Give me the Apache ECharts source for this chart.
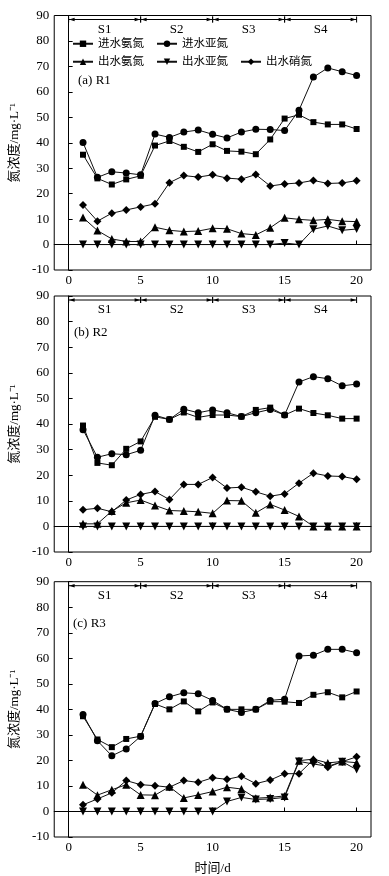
<!DOCTYPE html>
<html><head><meta charset="utf-8">
<script src="https://cdn.jsdelivr.net/npm/echarts@6/dist/echarts.min.js"></script>
<style>html,body{margin:0;padding:0;background:#fff}#c{width:389px;height:876px}</style>
</head><body><div id="c"></div>
<script>
const days = [1,2,3,4,5,6,7,8,9,10,11,12,13,14,15,16,17,18,19,20];
const seriesNames = ['进水氨氮','进水亚氮','出水氨氮','出水亚氮','出水硝氮'];
const symbols = ['rect','circle','triangle','path://M0,0L10,0L5,9Z','diamond'];
const symbolSizes = [6,7,8,8,8];
const xTicks = [0,5,10,15,20];
const stageStart = [0,5,10,15];
const stageEnd = [5,10,15,20];
const stageLabels = ['S1','S2','S3','S4'];
const panelLabels = ['(a) R1','(b) R2','(c) R3'];

// R1
const r1_inNH = [35.3,26.0,23.6,25.6,27.0,38.9,40.7,38.4,36.4,39.4,36.8,36.5,35.5,41.3,49.5,51.0,48.1,47.2,47.2,45.4];
const r1_inNO2 = [40.1,26.4,28.6,28.1,27.4,43.4,42.1,44.2,45.0,43.3,41.9,44.2,45.3,45.2,44.8,52.8,65.8,69.4,67.9,66.4];
const r1_outNH = [10.6,5.5,2.2,1.2,1.2,6.8,5.6,5.1,5.3,6.4,6.2,4.3,3.8,6.6,10.5,9.9,9.5,9.9,9.2,9.0];
const r1_outNO2 = [0,0,0,0,0,0,0,0,0,0,0,0,0,0,0.6,0,6.0,7.3,5.6,6.1];
const r1_outNO3 = [15.5,9.2,12.3,13.6,14.8,16.0,24.3,27.1,26.5,27.4,26.1,25.7,27.5,23.0,23.8,24.2,25.2,24.0,24.2,25.1];
// R2
const r2_inNH = [39.4,24.8,23.9,30.3,33.2,42.8,41.8,44.5,42.6,43.5,43.5,42.9,45.5,46.4,43.5,46.0,44.3,43.4,42.1,42.1];
const r2_inNO2 = [37.8,27.0,28.4,28.0,29.7,43.4,41.8,45.8,44.4,45.5,44.4,42.9,44.4,45.7,43.5,56.4,58.5,57.7,54.9,55.6];
const r2_outNH = [1.0,1.0,6.0,9.2,10.3,8.2,6.2,6.0,5.7,5.1,10.1,10.0,5.3,8.6,6.4,3.9,0,0,0,0];
const r2_outNO2 = [0,0,0,0,0,0,0,0,0,0,0,0,0,0,0,0,0,0,0,0];
const r2_outNO3 = [6.5,7.1,5.7,10.3,12.5,13.6,10.5,16.4,16.4,19.1,15.0,15.3,13.5,11.8,12.7,16.9,20.8,19.7,19.5,18.4];
// R3
const r3_inNH = [37.3,28.2,25.2,28.4,29.5,42.1,40.0,43.1,39.2,42.7,40.0,40.0,40.0,43.0,43.0,42.5,45.7,46.7,44.7,47.0];
const r3_inNO2 = [38.0,27.7,21.8,24.5,29.4,42.3,44.9,46.5,46.1,43.5,40.0,38.8,40.0,43.5,44.0,60.9,61.2,63.5,63.5,62.2];
const r3_outNH = [10.5,6.4,8.5,10.5,6.5,6.4,9.7,5.3,6.5,7.8,9.5,8.8,5.2,5.5,6.1,19.9,20.5,19.0,19.6,19.1];
const r3_outNO2 = [0,0,0,0,0,0,0,0,0,0,3.9,5.5,4.7,4.9,5.5,19.6,18.6,17.7,19.5,16.4];
const r3_outNO3 = [2.6,4.9,7.3,12.1,10.5,10.1,9.5,12.1,11.4,13.2,12.6,13.8,10.9,12.3,14.8,14.8,20.3,17.3,19.5,21.4];

const panels = [
  [r1_inNH, r1_inNO2, r1_outNH, r1_outNO2, r1_outNO3],
  [r2_inNH, r2_inNO2, r2_outNH, r2_outNO2, r2_outNO3],
  [r3_inNH, r3_inNO2, r3_outNH, r3_outNO2, r3_outNO3]
];

const serif = "'Liberation Serif','Times New Roman','Noto Sans CJK SC',serif";
const cjk = "'Liberation Serif','Noto Sans CJK SC',serif";
const gridTops = [15.5, 296, 581.7];
const gridHeights = [254.5, 256, 256.5];

const grids = [], xAxes = [], yAxes = [], series = [];
panels.forEach((p, i) => {
  grids.push({left: 52, right: 18, top: gridTops[i], height: gridHeights[i], show: true, borderColor: '#000', borderWidth: 1, backgroundColor: 'transparent'});
  xAxes.push({
    type: 'value', gridIndex: i, min: -1, max: 21,
    axisLine: {lineStyle: {color: '#000', width: 1}},
    axisTick: {inside: true, length: 4, customValues: xTicks, lineStyle: {color: '#000'}},
    axisLabel: {customValues: xTicks, color: '#000', fontFamily: serif, fontSize: 13, margin: 4},
    splitLine: {show: false},
    name: i === 2 ? '时间/d' : '', nameLocation: 'middle', nameGap: 25,
    nameTextStyle: {color: '#000', fontFamily: cjk, fontSize: 13}
  });
  yAxes.push({
    type: 'value', gridIndex: i, min: -10, max: 90, interval: 10,
    axisLine: {show: true, lineStyle: {color: '#000', width: 1}},
    axisTick: {inside: true, length: 4, lineStyle: {color: '#000'}},
    axisLabel: {color: '#000', fontFamily: serif, fontSize: 13, margin: 5},
    splitLine: {show: false},
    name: '氮浓度/mg·L⁻¹', nameLocation: 'middle', nameGap: 33, nameRotate: 90,
    nameTextStyle: {color: '#000', fontFamily: cjk, fontSize: 13}
  });
  p.forEach((vals, k) => {
    series.push({
      type: 'line', name: seriesNames[k], xAxisIndex: i, yAxisIndex: i,
      data: days.map((d, j) => [d, vals[j]]),
      symbol: symbols[k], symbolSize: symbolSizes[k],
      itemStyle: {color: '#000'}, lineStyle: {color: '#111', width: 1},
      showSymbol: true, animation: false, z: 3 + k
    });
  });
  series.push({
    type: 'custom', xAxisIndex: i, yAxisIndex: i, animation: false, silent: true,
    data: stageStart.map((s, j) => [s, stageEnd[j]]),
    encode: {x: [0, 1]},
    renderItem: function (params, api) {
      const a = api.coord([api.value(0), 90]);
      const b = api.coord([api.value(1), 90]);
      const y = a[1] + 4;
      const x0 = a[0], x1 = b[0];
      const st = {stroke: '#000', lineWidth: 1};
      return {
        type: 'group', children: [
          {type: 'line', shape: {x1: x0, y1: y, x2: x1, y2: y}, style: st},
          {type: 'line', shape: {x1: x0, y1: y - 3, x2: x0, y2: y + 3}, style: st},
          {type: 'line', shape: {x1: x1, y1: y - 3, x2: x1, y2: y + 3}, style: st},
          {type: 'polygon', shape: {points: [[x0 + 0.5, y], [x0 + 6, y - 1.8], [x0 + 6, y + 1.8]]}, style: {fill: '#000'}},
          {type: 'polygon', shape: {points: [[x1 - 0.5, y], [x1 - 6, y - 1.8], [x1 - 6, y + 1.8]]}, style: {fill: '#000'}},
          {type: 'text', style: {text: stageLabels[params.dataIndex], x: (x0 + x1) / 2, y: y + 10, align: 'center', verticalAlign: 'middle', fill: '#000', font: "13px 'Liberation Serif', serif"}}
        ]
      };
    }
  });
});

const labelY = [81, 333, 624];
const labelX = [78, 74, 73];
const graphic = panelLabels.map((t, i) => ({
  type: 'text', left: labelX[i], top: labelY[i] - 7,
  style: {text: t, fill: '#000', font: "13px 'Liberation Serif', serif"}
}));

const legendCommon = {
  itemWidth: 20, itemHeight: 8, itemGap: 12,
  textStyle: {color: '#000', fontFamily: cjk, fontSize: 11.5},
  selectedMode: false, padding: 0
};
const chart = echarts.init(document.getElementById('c'), null, {renderer: 'canvas'});
chart.setOption({
  animation: false,
  backgroundColor: '#fff',
  grid: grids, xAxis: xAxes, yAxis: yAxes, series: series, graphic: graphic,
  legend: [
    Object.assign({}, legendCommon, {data: ['进水氨氮','进水亚氮'], left: 72, top: 38}),
    Object.assign({}, legendCommon, {data: ['出水氨氮','出水亚氮','出水硝氮'], left: 72, top: 56})
  ]
});
</script></body></html>
